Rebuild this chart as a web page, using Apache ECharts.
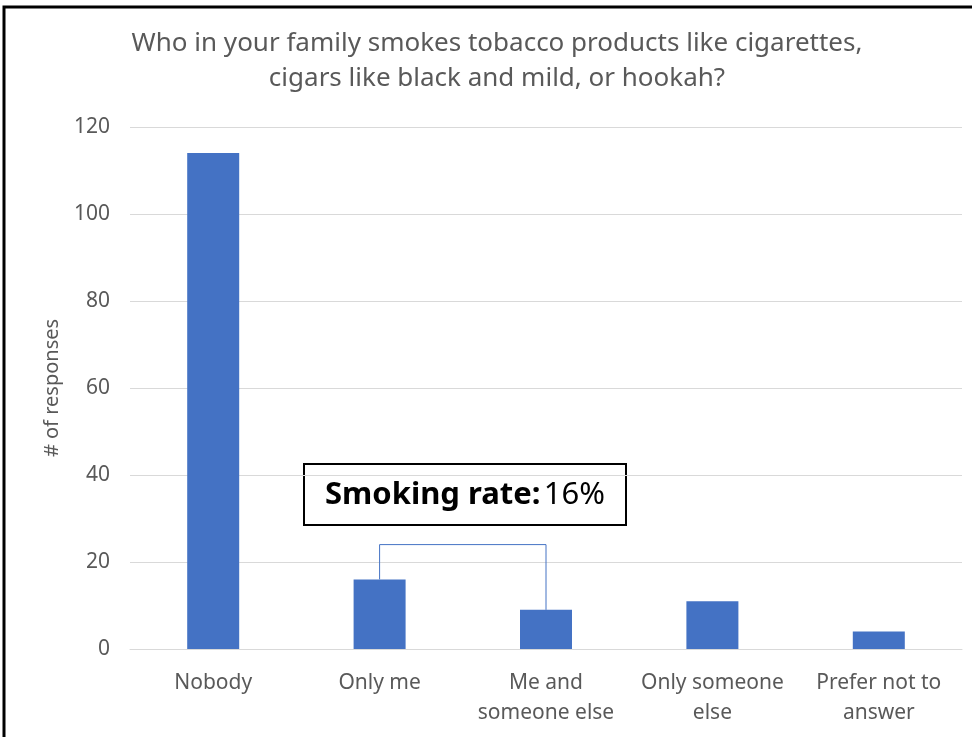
<!DOCTYPE html>
<html>
<head>
<meta charset="utf-8">
<script src="https://cdn.jsdelivr.net/npm/echarts@6/dist/echarts.min.js"></script>
<style>
  html, body { margin: 0; padding: 0; background: #fff; }
  #main { width: 972px; height: 737px; }
</style>
</head>
<body>
<div id="main"></div>
<script>
(function () {
    var myChart = echarts.init(document.getElementById('main'));

    // data
    var categories = ['Nobody', 'Only me', 'Me and\nsomeone else', 'Only someone\nelse', 'Prefer not to\nanswer'];
    var responses = [114, 16, 9, 11, 4];
    var yTicks = { min: 0, max: 120, interval: 20 };
    // bracket joining the two "smoker" bars
    var bracketTop = 24;
    var bracket = [
        [categories[1], responses[1]],
        [categories[1], bracketTop],
        [categories[2], bracketTop],
        [categories[2], responses[2]]
    ];
    var smokingRate = '16%';

    var textColor = '#595959';
    var font = 'Noto Sans';

    var option = {
        backgroundColor: '#fff',
        animation: false,
        grid: {
            left: 130,
            right: 10,
            top: 127,
            bottom: 88
        },
        xAxis: {
            type: 'category',
            data: categories,
            axisLine: { lineStyle: { color: '#d9d9d9', width: 1 } },
            axisTick: { show: false },
            axisLabel: {
                color: textColor,
                fontFamily: font,
                fontSize: 21,
                lineHeight: 30,
                margin: 19,
                interval: 0
            }
        },
        yAxis: {
            type: 'value',
            min: yTicks.min,
            max: yTicks.max,
            interval: yTicks.interval,
            name: '# of responses',
            nameLocation: 'middle',
            nameGap: 68,
            nameTextStyle: { color: textColor, fontFamily: font, fontSize: 20 },
            axisLine: { show: false },
            axisTick: { show: false },
            axisLabel: { color: textColor, fontFamily: font, fontSize: 21, margin: 20 },
            splitLine: { lineStyle: { color: '#d9d9d9', width: 1 } }
        },
        series: [{
            type: 'bar',
            data: responses,
            barWidth: 52,
            itemStyle: { color: '#4472c4' },
            z: 2
        }, {
            type: 'line',
            data: bracket,
            symbol: 'none',
            lineStyle: { color: '#4472c4', width: 1 },
            z: 3
        }],
        graphic: [{
            // outer frame
            type: 'rect',
            shape: { x: 4, y: 7, width: 990, height: 760 },
            style: { fill: 'none', stroke: '#000', lineWidth: 3 },
            silent: true
        }, {
            type: 'text',
            x: 497,
            y: 26,
            style: {
                text: 'Who in your family smokes tobacco products like cigarettes,\ncigars like black and mild, or hookah?',
                fill: textColor,
                font: '26px "' + font + '"',
                lineHeight: 35,
                align: 'center'
            }
        }, {
            type: 'group',
            left: 303,
            top: 463,
            children: [{
                type: 'rect',
                shape: { x: 0, y: 0, width: 322, height: 61 },
                style: { fill: '#fff', stroke: '#000', lineWidth: 2 }
            }, {
                type: 'text',
                x: 161,
                y: 31,
                style: {
                    text: '{b|Smoking rate:} {n|' + smokingRate + '}',
                    align: 'center',
                    verticalAlign: 'middle',
                    rich: {
                        b: { fontFamily: font, fontSize: 31, fontWeight: 'bold', fill: '#000' },
                        n: { fontFamily: font, fontSize: 31, fill: '#000' }
                    }
                }
            }]
        }]
    };
    myChart.setOption(option);
})();
</script>
</body>
</html>
